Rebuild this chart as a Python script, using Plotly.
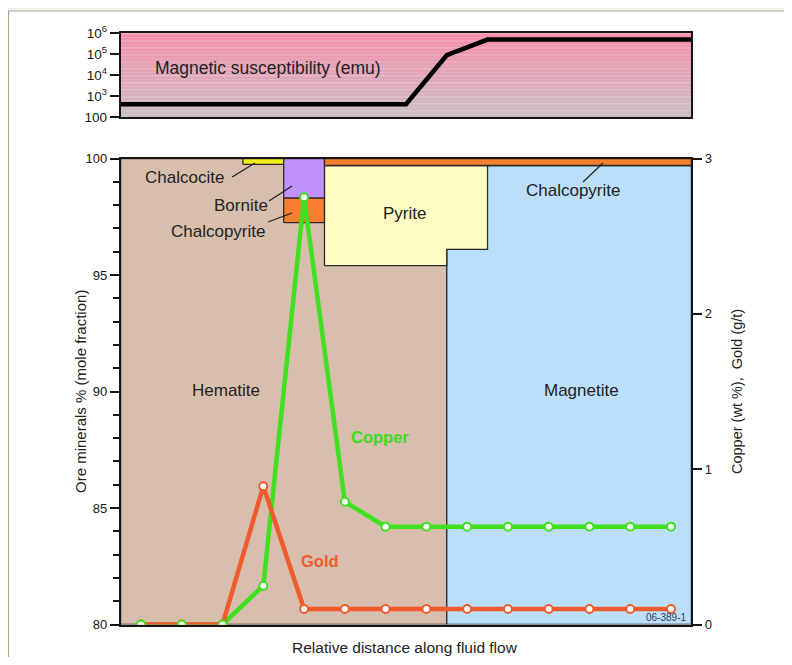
import plotly.graph_objects as go

# page is 792x665; the figure sits inside the 8px body margin
PAGE_OFF = 8
FW, FH = 776, 649

# ---------------- data ----------------
positions = list(range(1, 15))                       # sample stations along flow
copper = [0, 0, 0, 0.25, 2.75, 0.79, 0.63, 0.63, 0.63, 0.63, 0.63, 0.63, 0.63, 0.63]   # wt %
gold = [0, 0, 0, 0.89, 0.10, 0.10, 0.10, 0.10, 0.10, 0.10, 0.10, 0.10, 0.10, 0.10]     # g/t

mag_x = [0.5, 7.5, 8.5, 9.5, 14.5]
mag_y = [420, 420, 9.0e4, 5.0e5, 5.0e5]              # magnetic susceptibility (emu)

zone_names = ["Hematite", "Magnetite", "Pyrite", "Chalcocite", "Bornite",
              "Chalcopyrite", "Chalcopyrite"]
zone_x = [
    [0.5, 8.5, 8.5, 0.5],
    [8.5, 14.5, 14.5, 8.5],
    [5.5, 8.5, 8.5, 9.5, 9.5, 5.5],
    [3.5, 4.5, 4.5, 3.5],
    [4.5, 5.5, 5.5, 4.5],
    [4.5, 5.5, 5.5, 4.5],
    [5.5, 14.5, 14.5, 5.5],
]
zone_y = [
    [80, 80, 100, 100],
    [80, 80, 99.7, 99.7],
    [95.4, 95.4, 96.1, 96.1, 99.7, 99.7],
    [99.75, 99.75, 100, 100],
    [98.3, 98.3, 100, 100],
    [97.25, 97.25, 98.3, 98.3],
    [99.7, 99.7, 100, 100],
]
zone_colors = ["#d8bfad", "#bcdff9", "#fffbc2", "#f3ef1c", "#c191fb", "#f77d2f", "#f77d2f"]

left_ticks = [80, 85, 90, 95, 100]
right_ticks = [0, 1, 2, 3]
mag_ticks = [100, 1e3, 1e4, 1e5, 1e6]
mag_ticktext = ["100", "10<sup>3</sup>", "10<sup>4</sup>", "10<sup>5</sup>", "10<sup>6</sup>"]

# ---------------- styling ----------------
FONT = "Liberation Sans, Arial, Helvetica, sans-serif"
INK = "#161616"
CU = "#3fe01f"
AU = "#f05a2c"

def pxx(x):
    return (x - PAGE_OFF) / FW

def pyy(y):
    return 1 - (y - PAGE_OFF) / FH

xdom = [pxx(120.6), pxx(691.4)]
main_dom = [pyy(624.5), pyy(158.5)]
top_dom = [pyy(117.3), pyy(33.3)]

fig = go.Figure()

# mineral zones
for xs, ys, c, n in zip(zone_x, zone_y, zone_colors, zone_names):
    fig.add_trace(go.Scatter(
        x=xs + [xs[0]], y=ys + [ys[0]], fill="toself", fillcolor=c,
        mode="lines", line=dict(color="#2a2a2a", width=1.3),
        name=n, hoverinfo="skip", showlegend=False, xaxis="x", yaxis="y"))

# copper line (under gold), gold line+markers, copper markers
fig.add_trace(go.Scatter(x=positions, y=copper, mode="lines",
                         line=dict(color=CU, width=4.5), yaxis="y2", xaxis="x",
                         showlegend=False, hoverinfo="skip"))
fig.add_trace(go.Scatter(x=positions, y=gold, mode="lines+markers",
                         line=dict(color=AU, width=4.5),
                         marker=dict(size=8, color="white", line=dict(color=AU, width=2)),
                         yaxis="y2", xaxis="x", showlegend=False, name="Gold"))
fig.add_trace(go.Scatter(x=positions, y=copper, mode="markers",
                         marker=dict(size=8, color="white", line=dict(color=CU, width=2)),
                         yaxis="y2", xaxis="x", showlegend=False, name="Copper"))

# magnetic susceptibility
fig.add_trace(go.Scatter(x=mag_x, y=mag_y, mode="lines",
                         line=dict(color="black", width=4.5),
                         xaxis="x2", yaxis="y3", showlegend=False, name="Magnetic susceptibility"))

shapes = []
# page background panel
shapes.append(dict(type="rect", xref="paper", yref="paper",
                   x0=pxx(8.5), x1=1.05, y0=-0.05, y1=pyy(11),
                   fillcolor="white", line=dict(color="#9fae90", width=1.2), layer="below"))
# gradient in top panel
N = 60
top_c = (246, 141, 170)
bot_c = (202, 191, 197)
for i in range(N):
    t = (i + 0.5) / N
    c = tuple(round(bot_c[k] + (top_c[k] - bot_c[k]) * t) for k in range(3))
    shapes.append(dict(type="rect", xref="x2 domain", yref="y3 domain",
                       x0=0, x1=1, y0=i / N, y1=(i + 1) / N + 0.002,
                       fillcolor="rgb(%d,%d,%d)" % c, line=dict(width=0), layer="below"))

# leader lines (pixel positions)
leaders = [((232, 177), (255, 163)), ((269, 201), (292, 186)),
           ((268, 222), (292, 213)), ((583, 182), (603, 163))]
for (a, b) in leaders:
    shapes.append(dict(type="line", xref="paper", yref="paper",
                       x0=pxx(a[0]), y0=pyy(a[1]), x1=pxx(b[0]), y1=pyy(b[1]),
                       line=dict(color="#222", width=1.3)))

labels = [
    ("Magnetic susceptibility (emu)", 268, 68, 17.5, "#222", False),
    ("Chalcocite", 184, 177, 17, "#222", False),
    ("Bornite", 241, 205, 17, "#222", False),
    ("Chalcopyrite", 219, 231, 17, "#222", False),
    ("Pyrite", 405, 213, 17, "#222", False),
    ("Chalcopyrite", 573, 191, 17, "#222", False),
    ("Hematite", 226, 390, 17, "#222", False),
    ("Magnetite", 581, 390, 17, "#222", False),
    ("Copper", 380, 437, 16.5, "#3ddc1c", True),
    ("Gold", 320, 561, 16.5, AU, True),
    ("06-389-1", 666, 617, 10, "#2f3d58", False),
    ("Relative distance along fluid flow", 405, 647, 15.5, "#222", False),
]
annotations = []
for txt, x, y, s, col, bold in labels:
    annotations.append(dict(text=("<b>%s</b>" % txt) if bold else txt,
                            x=pxx(x), y=pyy(y), xref="paper", yref="paper",
                            showarrow=False, xanchor="center", yanchor="middle",
                            font=dict(family=FONT, size=s, color=col)))
for txt, x, y, s in [("Ore minerals % (mole fraction)", 80, 392, 15),
                     ("Copper (wt %),  Gold (g/t)", 737, 392, 14.5)]:
    annotations.append(dict(text=txt, x=pxx(x), y=pyy(y), xref="paper", yref="paper",
                            showarrow=False, textangle=-90, xanchor="center", yanchor="middle",
                            font=dict(family=FONT, size=s, color="#222")))

axis_common = dict(showgrid=False, zeroline=False, showline=True, linecolor=INK,
                   linewidth=1.6, tickcolor=INK, tickwidth=1.6, automargin=False,
                   tickfont=dict(family=FONT, size=13, color=INK))
axis_notick = {k: v for k, v in axis_common.items() if k != "tickfont"}

fig.update_layout(
    template="none",
    width=FW, height=FH,
    margin=dict(l=0, r=0, t=0, b=0, pad=0, autoexpand=False),
    paper_bgcolor="#eff1ec",
    plot_bgcolor="rgba(0,0,0,0)",
    showlegend=False,
    shapes=shapes,
    annotations=annotations,
    xaxis=dict(domain=xdom, range=[0.5, 14.5], anchor="y", showticklabels=False,
               ticks="", mirror=True, **axis_notick),
    yaxis=dict(domain=main_dom, range=[80, 100], anchor="x", tickvals=left_ticks,
               ticks="outside", ticklen=9, mirror=False,
               minor=dict(dtick=1, ticks="outside", ticklen=6, tickwidth=1.6, tickcolor=INK,
                          showgrid=False),
               **axis_common),
    yaxis2=dict(range=[0, 3], overlaying="y", side="right", anchor="x",
                tickvals=right_ticks, ticks="outside", ticklen=9, **axis_common),
    xaxis2=dict(domain=xdom, range=[0.5, 14.5], anchor="y3", showticklabels=False,
                ticks="", mirror=True, **axis_notick),
    yaxis3=dict(domain=top_dom, type="log", range=[2, 6], anchor="x2",
                tickvals=mag_ticks, ticktext=mag_ticktext, ticks="outside", ticklen=9,
                mirror=True, **{**axis_common, "tickfont": dict(family=FONT, size=13.5, color=INK)}),
)

fig.write_html("out.html")
